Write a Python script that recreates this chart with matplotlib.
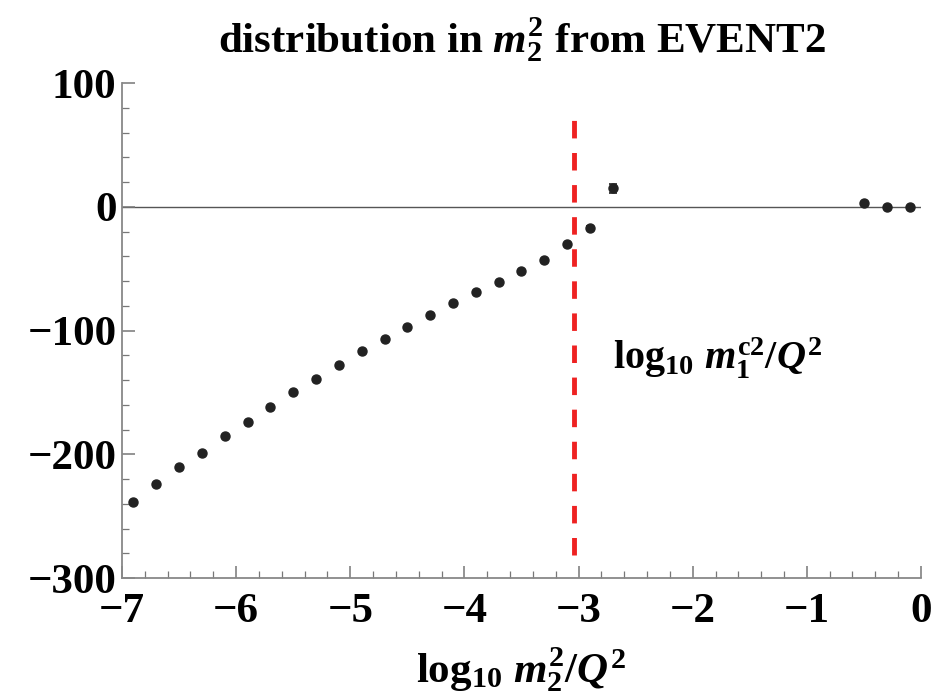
import numpy as np
import matplotlib
matplotlib.use("Agg")
import matplotlib.pyplot as plt
from matplotlib.ticker import MultipleLocator

plt.rcParams['mathtext.fontset'] = 'custom'
plt.rcParams['mathtext.rm'] = 'Liberation Serif:bold'
plt.rcParams['mathtext.it'] = 'Liberation Serif:bold:italic'
plt.rcParams['mathtext.bf'] = 'Liberation Serif:bold'
plt.rcParams['font.family'] = 'Liberation Serif'
plt.rcParams['font.weight'] = 'bold'

# EVENT2 points: log10 m2^2/Q^2 vs distribution
log_m2 = [-6.9, -6.7, -6.5, -6.3, -6.1, -5.9, -5.7, -5.5, -5.3, -5.1,
          -4.9, -4.7, -4.5, -4.3, -4.1, -3.9, -3.7, -3.5, -3.3, -3.1,
          -2.9, -2.7, -0.5, -0.3, -0.1]
dist = [-238.2, -223.9, -210.4, -198.9, -185.1, -174.0, -161.7, -149.5,
        -138.7, -127.7, -116.7, -106.9, -97.3, -87.0, -77.9, -69.0, -60.3,
        -51.7, -42.6, -30.2, -16.7, 14.9, 3.5, 0.0, 0.0]
err = [0.6, 0.6, 0.6, 0.6, 0.6, 0.6, 0.6, 0.6, 0.6, 0.6,
       0.6, 0.6, 0.6, 0.6, 0.6, 0.6, 0.6, 0.6, 0.6, 0.8,
       1.5, 3.8, 0.8, 0.6, 0.6]

cut_x = -3.036
cut_ylim = [-281.6, 78]

fig = plt.figure(figsize=(9.35, 6.99), dpi=100)
ax = fig.add_axes([0.1305, 0.173, 0.8545, 0.708])

ax.axhline(0, color='#555555', lw=1.0, zorder=1)
ax.errorbar(log_m2, dist, yerr=err, fmt='o', ms=6.5, color='#222222',
            ecolor='#222222', elinewidth=1.2, capsize=3, capthick=1.2, zorder=3)
ax.plot([cut_x, cut_x], cut_ylim, color='#ee2222', lw=3.5,
        dashes=(3.6, 3.0), zorder=2)

ax.text(-2.7, -122, r'$\mathrm{log}_{10}\ m_1^{\mathrm{c}2}/Q^2$',
        fontsize=29, ha='left', va='center')

ax.set_xlim(-7, 0)
ax.set_ylim(-300, 100)
ax.xaxis.set_major_locator(MultipleLocator(1))
ax.xaxis.set_minor_locator(MultipleLocator(0.2))
ax.yaxis.set_major_locator(MultipleLocator(100))
ax.yaxis.set_minor_locator(MultipleLocator(20))

for s in ['top', 'right']:
    ax.spines[s].set_visible(False)
for s in ['left', 'bottom']:
    ax.spines[s].set_color('#888888')
    ax.spines[s].set_linewidth(1.3)

ax.tick_params(which='both', direction='in', color='#777777', labelsize=31)
ax.tick_params(which='major', length=9, width=1.1)
ax.tick_params(which='minor', length=5, width=0.9)
ax.tick_params(axis='x', pad=11)
ax.tick_params(axis='y', pad=4)

ax.set_xticklabels(['\u2212' + str(abs(int(v))) if v < 0 else str(int(v))
                    for v in ax.get_xticks()])
ax.set_yticklabels(['\u2212' + str(abs(int(v))) if v < 0 else str(int(v))
                    for v in ax.get_yticks()])

ax.set_xlabel(r'$\mathrm{log}_{10}\ m_2^2/Q^2$', fontsize=31, labelpad=10)
ax.set_title(r'distribution in $m_2^2$ from EVENT2', fontsize=31,
             fontweight='bold', pad=22)

fig.savefig('out.png', dpi=100)
